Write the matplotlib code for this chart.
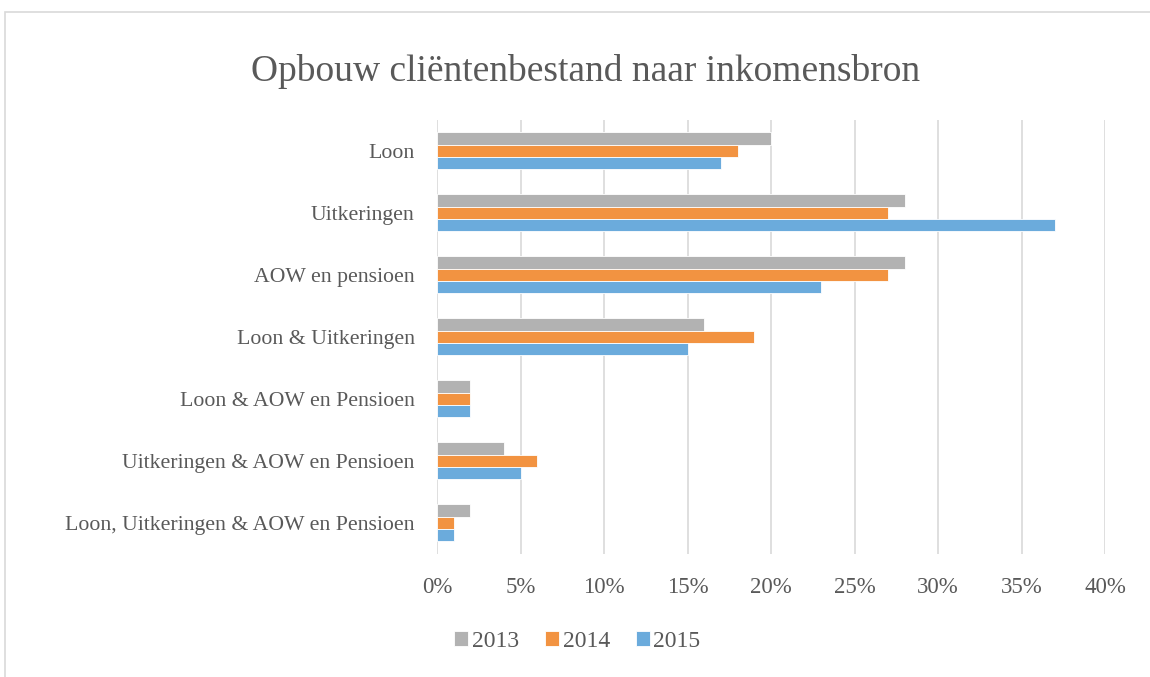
import numpy as np
import matplotlib
matplotlib.use('Agg')
from matplotlib import pyplot as plt
from matplotlib.patches import Rectangle

plt.rcParams['font.family'] = ['Liberation Serif', 'DejaVu Serif']

##################
# Data
categories = ['Loon', 'Uitkeringen', 'AOW en pensioen', 'Loon & Uitkeringen',
              'Loon & AOW en Pensioen', 'Uitkeringen & AOW en Pensioen',
              'Loon, Uitkeringen & AOW en Pensioen']
years = ['2013', '2014', '2015']
vals_2013 = [20, 28, 28, 16, 2, 4, 2]
vals_2014 = [18, 27, 27, 19, 2, 6, 1]
vals_2015 = [17, 37, 23, 15, 2, 5, 1]
xticks = [0, 5, 10, 15, 20, 25, 30, 35, 40]

colors = ['#B2B2B2', '#F29341', '#6BABDC']
txt = '#595959'

###################
fig = plt.figure(figsize=(11.5, 6.77), dpi=100)
ax = fig.add_axes([0.38, 0.182, 0.581, 0.641])

y = np.arange(len(categories))
h = 0.2
series = [vals_2013, vals_2014, vals_2015]
for i, s in enumerate(series):
    ax.barh(y + (i - 1) * h, s, height=h, color=colors[i], label=years[i],
            edgecolor='white', linewidth=0.6, zorder=3)

ax.set_ylim(len(categories) - 0.5, -0.5)
ax.set_xlim(0, 40)
ax.set_yticks(y)
ax.set_yticklabels(categories, fontsize=15.7, color=txt)
ax.set_xticks(xticks)
ax.set_xticklabels([f'{t}%' for t in xticks], fontsize=16.5, color=txt)
ax.tick_params(axis='both', length=0)
ax.tick_params(axis='y', pad=16)
ax.tick_params(axis='x', pad=17)

ax.grid(axis='x', color='#D9D9D9', linewidth=1.2, zorder=0)
for sp in ax.spines.values():
    sp.set_visible(False)

fig.text(0.509, 0.895, 'Opbouw cliëntenbestand naar inkomensbron',
         ha='center', va='center', fontsize=27, color=txt)

fig.legend(loc='center', bbox_to_anchor=(0.502, 0.052), ncol=3, frameon=False,
           fontsize=17, labelcolor=txt, handlelength=0.6, handleheight=0.6,
           handletextpad=0.15, columnspacing=1.1)

# chart area border
fig.patches.append(Rectangle((5 / 1150, -0.1), 1.2, 1 - 12 / 677 + 0.1,
                             transform=fig.transFigure, fill=False,
                             edgecolor='#D9D9D9', linewidth=1.2))

fig.savefig('out.png', dpi=100)
